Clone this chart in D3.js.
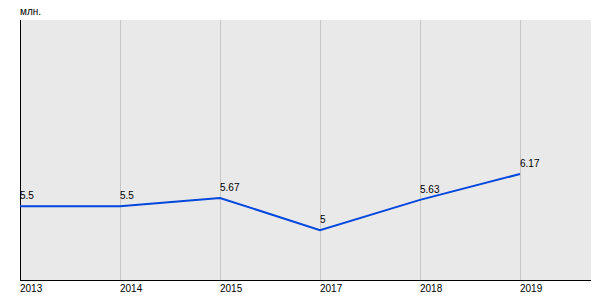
<!DOCTYPE html>
<html>
<head>
<meta charset="utf-8">
<script src="https://cdn.jsdelivr.net/npm/d3@7.9.0/dist/d3.min.js"></script>
<style>
  body { margin: 0; background: #fff; }
  svg text { font-family: Arial, "Liberation Sans", sans-serif; font-size: 10px; fill: #000; }
</style>
</head>
<body>
<svg id="chart" width="600" height="300"></svg>
<script>
const years = ["2013", "2014", "2015", "2017", "2018", "2019"];
const values = [5.5, 5.5, 5.67, 5, 5.63, 6.17];
const valueLabels = ["5.5", "5.5", "5.67", "5", "5.63", "6.17"];
const unitLabel = "млн.";

const svg = d3.select("#chart"),
      margin = { top: 20, right: 9, bottom: 20, left: 20 },
      innerWidth = 600 - margin.left - margin.right,
      innerHeight = 300 - margin.top - margin.bottom;

const chart = svg.append("g")
    .attr("transform", `translate(${margin.left},${margin.top})`);

// categories sit 100px apart, plot runs on past the last one
const xScale = d3.scaleLinear().domain([0, years.length - 1]).range([0, 500]);
const yScale = d3.scaleLinear().domain([3.96, 9.38]).range([innerHeight, 0]);

chart.append("rect")
    .attr("width", innerWidth)
    .attr("height", innerHeight)
    .attr("fill", "#e9e9e9");

chart.selectAll(".grid")
    .data(years)
    .enter()
    .append("line")
    .attr("class", "grid")
    .attr("x1", (d, i) => Math.round(xScale(i)) + 0.5)
    .attr("x2", (d, i) => Math.round(xScale(i)) + 0.5)
    .attr("y1", 0)
    .attr("y2", innerHeight)
    .attr("stroke", "#c6c6c6")
    .attr("stroke-width", 1);

chart.append("line")
    .attr("x1", 0).attr("x2", innerWidth)
    .attr("y1", innerHeight + 0.5).attr("y2", innerHeight + 0.5)
    .attr("stroke", "#000");

chart.append("line")
    .attr("x1", 0.5).attr("x2", 0.5)
    .attr("y1", 0).attr("y2", innerHeight)
    .attr("stroke", "#000");

chart.selectAll(".tick-label")
    .data(years)
    .enter()
    .append("text")
    .attr("class", "tick-label")
    .attr("x", (d, i) => xScale(i))
    .attr("y", innerHeight + 12)
    .text(d => d);

const line = d3.line()
    .x((d, i) => xScale(i))
    .y(d => yScale(d));

chart.append("path")
    .datum(values)
    .attr("fill", "none")
    .attr("stroke", "#0047de")
    .attr("stroke-width", 2)
    .attr("d", line);

chart.selectAll(".val-label")
    .data(values)
    .enter()
    .append("text")
    .attr("class", "val-label")
    .attr("x", (d, i) => xScale(i))
    .attr("y", d => yScale(d) - 7)
    .text((d, i) => valueLabels[i]);

svg.append("text")
    .attr("x", 20)
    .attr("y", 15)
    .text(unitLabel);
</script>
</body>
</html>
